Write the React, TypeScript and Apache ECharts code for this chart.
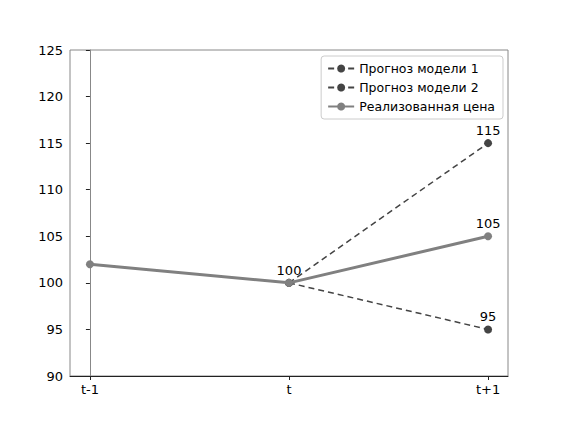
import React, { useEffect, useRef } from "react";
import * as echarts from "echarts";

const categories = ["t-1", "t", "t+1"];
const model1: (number | null)[] = [null, 100, 115];
const model2: (number | null)[] = [null, 100, 95];
const realized: number[] = [102, 100, 105];
const yTicks = [90, 95, 100, 105, 110, 115, 120, 125];

const seriesNames = ["Прогноз модели 1", "Прогноз модели 2", "Реализованная цена"];

function toPoints(vals: (number | null)[]) {
  return vals
    .map((v, i) => (v === null ? null : [i, v]))
    .filter((p) => p !== null) as number[][];
}

export default function App() {
  const ref = useRef<HTMLDivElement>(null);
  useEffect(() => {
    if (!ref.current) return;
    const chart = echarts.init(ref.current, null, { renderer: "svg" });
    const font = "DejaVu Sans";
    const lbl = (show: boolean) => ({
      show,
      position: "top" as const,
      distance: 2,
      color: "#000",
      fontFamily: font,
      fontSize: 13,
    });
    const m1 = toPoints(model1).map((p) => ({ value: p, label: lbl(true) }));
    const m2 = toPoints(model2).map((p, i) => ({ value: p, label: lbl(i === 1) }));
    const r = realized.map((v, i) => ({ value: [i, v], label: lbl(i === 2) }));
    chart.setOption({
      animation: false,
      backgroundColor: "#fff",
      textStyle: { fontFamily: font },
      grid: { left: 70, top: 50, right: 56, bottom: 47, show: true, borderColor: "#888", borderWidth: 1 },
      xAxis: {
        type: "value",
        min: -0.1,
        max: 2.1,
        splitLine: { show: false },
        axisLine: { show: true, lineStyle: { color: "#222", width: 1 } },
        axisTick: { show: true, customValues: [0, 1, 2], length: 4, lineStyle: { color: "#222" } },
        axisLabel: {
          customValues: [0, 1, 2],
          formatter: (v: number) => categories[Math.round(v)] ?? "",
          color: "#000",
          fontFamily: font,
          fontSize: 13,
          margin: 7,
        },
      },
      yAxis: {
        type: "value",
        min: 90,
        max: 125,
        interval: 5,
        splitLine: { show: false },
        axisLine: { show: true, lineStyle: { color: "#888", width: 1 } },
        axisTick: { show: true, length: 4, lineStyle: { color: "#222" } },
        axisLabel: {
          color: "#000",
          fontFamily: font,
          fontSize: 13,
          margin: 7,
          formatter: (v: number) => (yTicks.includes(v) ? String(v) : ""),
        },
      },
      legend: {
        right: 61,
        top: 56,
        orient: "vertical",
        itemGap: 6,
        itemWidth: 26,
        itemHeight: 10,
        padding: [6, 8, 6, 6],
        backgroundColor: "#fff",
        borderColor: "#ccc",
        borderWidth: 1,
        borderRadius: 3,
        textStyle: { fontFamily: font, fontSize: 12.5, color: "#000" },
        data: seriesNames,
      },
      series: [
        {
          name: seriesNames[0],
          type: "line",
          data: m1,
          symbol: "circle",
          symbolSize: 8,
          lineStyle: { color: "#444", width: 1.5, type: [6, 4] },
          itemStyle: { color: "#444" },
          z: 2,
        },
        {
          name: seriesNames[1],
          type: "line",
          data: m2,
          symbol: "circle",
          symbolSize: 8,
          lineStyle: { color: "#444", width: 1.5, type: [6, 4] },
          itemStyle: { color: "#444" },
          z: 2,
        },
        {
          name: seriesNames[2],
          type: "line",
          data: r,
          symbol: "circle",
          symbolSize: 8,
          lineStyle: { color: "#808080", width: 3 },
          itemStyle: { color: "#808080" },
          z: 3,
        },
      ],
    });
    return () => chart.dispose();
  }, []);
  return (
    <div
      ref={ref}
      style={{ position: "absolute", left: 0, top: 0, width: 564, height: 423 }}
    />
  );
}
